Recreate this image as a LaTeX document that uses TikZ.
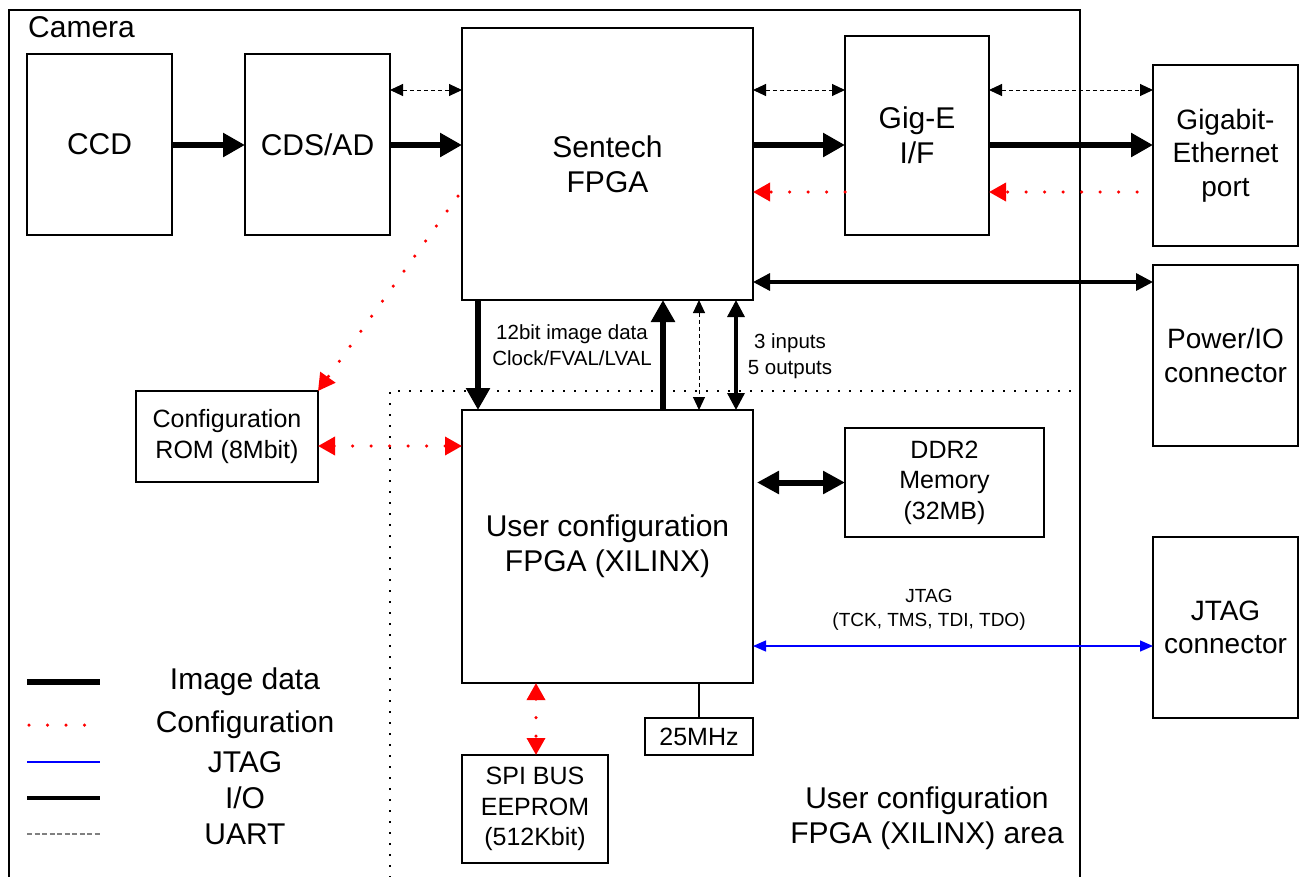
\documentclass[tikz,border=0pt]{standalone}
\usepackage{fontspec}
\setmainfont{Liberation Sans}
\usetikzlibrary{arrows.meta}
\begin{document}
\begin{tikzpicture}[x=1pt,y=-1pt,
  box/.style={draw, line width=1.8pt, inner sep=0pt, outer sep=0pt, align=center, anchor=north west},
  fbig/.style={font=\fontsize{30}{35}\selectfont},
  fcon/.style={font=\fontsize{28}{33.5}\selectfont},
  fmid/.style={font=\fontsize{25}{30.5}\selectfont},
  fsmall/.style={font=\fontsize{20.5}{25.5}\selectfont},
  fjt/.style={font=\fontsize{19}{23.5}\selectfont},
  img/.style={line width=6.5pt, -{Triangle[length=22pt,width=23pt]}},
  imgboth/.style={line width=6pt, {Triangle[length=22pt,width=22pt]}-{Triangle[length=22pt,width=22pt]}},
  io/.style={line width=3.3pt, {Triangle[length=17pt,width=17pt]}-{Triangle[length=17pt,width=17pt]}},
  uart/.style={line width=1pt, dash pattern=on 4pt off 3pt, {Triangle[length=13pt,width=12pt]}-{Triangle[length=13pt,width=12pt]}},
  cfg/.style={red, line width=3.5pt, line cap=round, dash pattern=on 0pt off 18.5pt, -{Triangle[length=17pt,width=18pt]}},
  cfgboth/.style={red, line width=3.5pt, line cap=round, dash pattern=on 0pt off 18.5pt, {Triangle[length=17pt,width=18pt]}-{Triangle[length=17pt,width=18pt]}},
  jtagline/.style={blue, line width=1.3pt, {Triangle[length=13pt,width=11pt]}-{Triangle[length=13pt,width=11pt]}},
  thin/.style={line width=1.8pt},
  area/.style={line width=1.8pt, dash pattern=on 1.6pt off 9.4pt}
]
\path[use as bounding box] (0,0) rectangle (1299,876);
\clip (0,0) rectangle (1299,876);

% camera enclosure
\draw[line width=1.8pt] (9,900) -- (9,10) -- (1080,10) -- (1080,900);
\node[fbig, anchor=base west, inner sep=0pt] (camlabel) at (28,37) {Camera};

% user area
\draw[area] (390,900) -- (390,391) -- (1080,391);
\draw[area] (1080,391) -- (1080,900);

% boxes
\node[box, fbig, minimum width=145, minimum height=181] (ccd) at (27,54) {CCD};
\node[box, fbig, minimum width=145, minimum height=181] (cds) at (245,54) {CDS/AD};
\node[box, fbig, minimum width=291, minimum height=272] (sentech) at (462,28) {Sentech\\FPGA};
\node[box, fbig, minimum width=144, minimum height=199] (gige) at (845,36) {Gig-E\\I/F};
\node[box, fcon, minimum width=145, minimum height=181] (port) at (1153,65) {Gigabit-\\Ethernet\\port};
\node[box, fcon, minimum width=145, minimum height=181] (power) at (1153,265) {Power/IO\\connector};
\node[box, fmid, minimum width=182, minimum height=91] (rom) at (136,391) {Configuration\\ROM (8Mbit)};
\node[box, fbig, minimum width=291, minimum height=273] (user) at (462,410) {User configuration\\FPGA (XILINX)};
\node[box, fmid, minimum width=199, minimum height=109] (ddr) at (845,428) {DDR2\\Memory\\(32MB)};
\node[box, fcon, minimum width=145, minimum height=181] (jtag) at (1153,537) {JTAG\\connector};
\node[box, fmid, minimum width=146, minimum height=108] (spi) at (462,755) {SPI BUS\\EEPROM\\(512Kbit)};
\node[box, fmid, minimum width=108, minimum height=37] (mhz) at (645,718) {25MHz};

% helper coordinates
\coordinate (y90) at (0,90);
\coordinate (y145) at (0,145);
\coordinate (y192) at (0,192);
\coordinate (y196) at (0,196);
\coordinate (y282) at (0,282);
\coordinate (y446) at (0,446);
\coordinate (y646) at (0,646);
\coordinate (x478) at (478,0);
\coordinate (x663) at (663,0);
\coordinate (x699) at (699,0);
\coordinate (x736) at (736,0);
\coordinate (x536) at (536,0);

% top row
\draw[img] (ccd.east |- y145) -- (cds.west |- y145);
\draw[img] (cds.east |- y145) -- (sentech.west |- y145);
\draw[uart] (cds.east |- y90) -- (sentech.west |- y90);
\draw[uart] (sentech.east |- y90) -- (gige.west |- y90);
\draw[img] (sentech.east |- y145) -- (gige.west |- y145);
\draw[cfg] (gige.west |- y192) -- (sentech.east |- y192);
\draw[uart] (gige.east |- y90) -- (port.west |- y90);
\draw[img] (gige.east |- y145) -- (port.west |- y145);
\draw[cfg] ([xshift=-16pt]port.west |- y192) -- (gige.east |- y192);
\draw[io] (sentech.east |- y282) -- (power.west |- y282);

% configuration ROM
\draw[cfg] ([xshift=-4pt]sentech.west |- y196) -- (rom.north east);
\draw[cfgboth] (rom.east |- y446) -- (user.west |- y446);

% between FPGAs
\draw[img] (x478 |- sentech.south) -- (x478 |- user.north);
\draw[img] (x663 |- user.north) -- (x663 |- sentech.south);
\draw[uart] (x699 |- sentech.south) -- (x699 |- user.north);
\draw[io] (x736 |- sentech.south) -- (x736 |- user.north);
\node[fsmall, align=center, inner sep=0pt] (lbl12) at (572,345) {12bit image data\\Clock/FVAL/LVAL};
\node[fsmall, align=center, inner sep=0pt] (lblio) at (790,356) {3 inputs\\5 outputs};

% user FPGA peripherals
\draw[imgboth] ([xshift=4pt]user.east |- ddr.west) -- (ddr.west);
\draw[jtagline] (user.east |- y646) -- (jtag.west |- y646);
\node[fjt, align=center, inner sep=0pt] (lbljtag) at (929,610) {JTAG\\(TCK, TMS, TDI, TDO)};
\draw[cfgboth] (x536 |- user.south) -- (x536 |- spi.north);
\draw[thin] (x699 |- user.south) -- (x699 |- mhz.north);

\node[fbig, align=center, inner sep=0pt] (arealbl) at (927,818) {User configuration\\FPGA (XILINX) area};

% legend
\draw[line width=6.5pt] (27,682) -- (100,682);
\draw[red, line width=3.5pt, line cap=round, dash pattern=on 0pt off 18.5pt] (29,725) -- (100,725);
\draw[blue, line width=1.3pt] (27,762) -- (100,762);
\draw[line width=4pt] (27,798) -- (100,798);
\draw[gray, line width=1.5pt, dash pattern=on 5pt off 2.5pt] (27,834) -- (100,834);
\node[fbig, inner sep=0pt] (lg1) at (245,682) {Image data};
\node[fbig, inner sep=0pt] (lg2) at (245,725) {Configuration};
\node[fbig, inner sep=0pt] (lg3) at (245,762) {JTAG};
\node[fbig, inner sep=0pt] (lg4) at (245,798) {I/O};
\node[fbig, inner sep=0pt] (lg5) at (245,834) {UART};
\end{tikzpicture}
\end{document}
